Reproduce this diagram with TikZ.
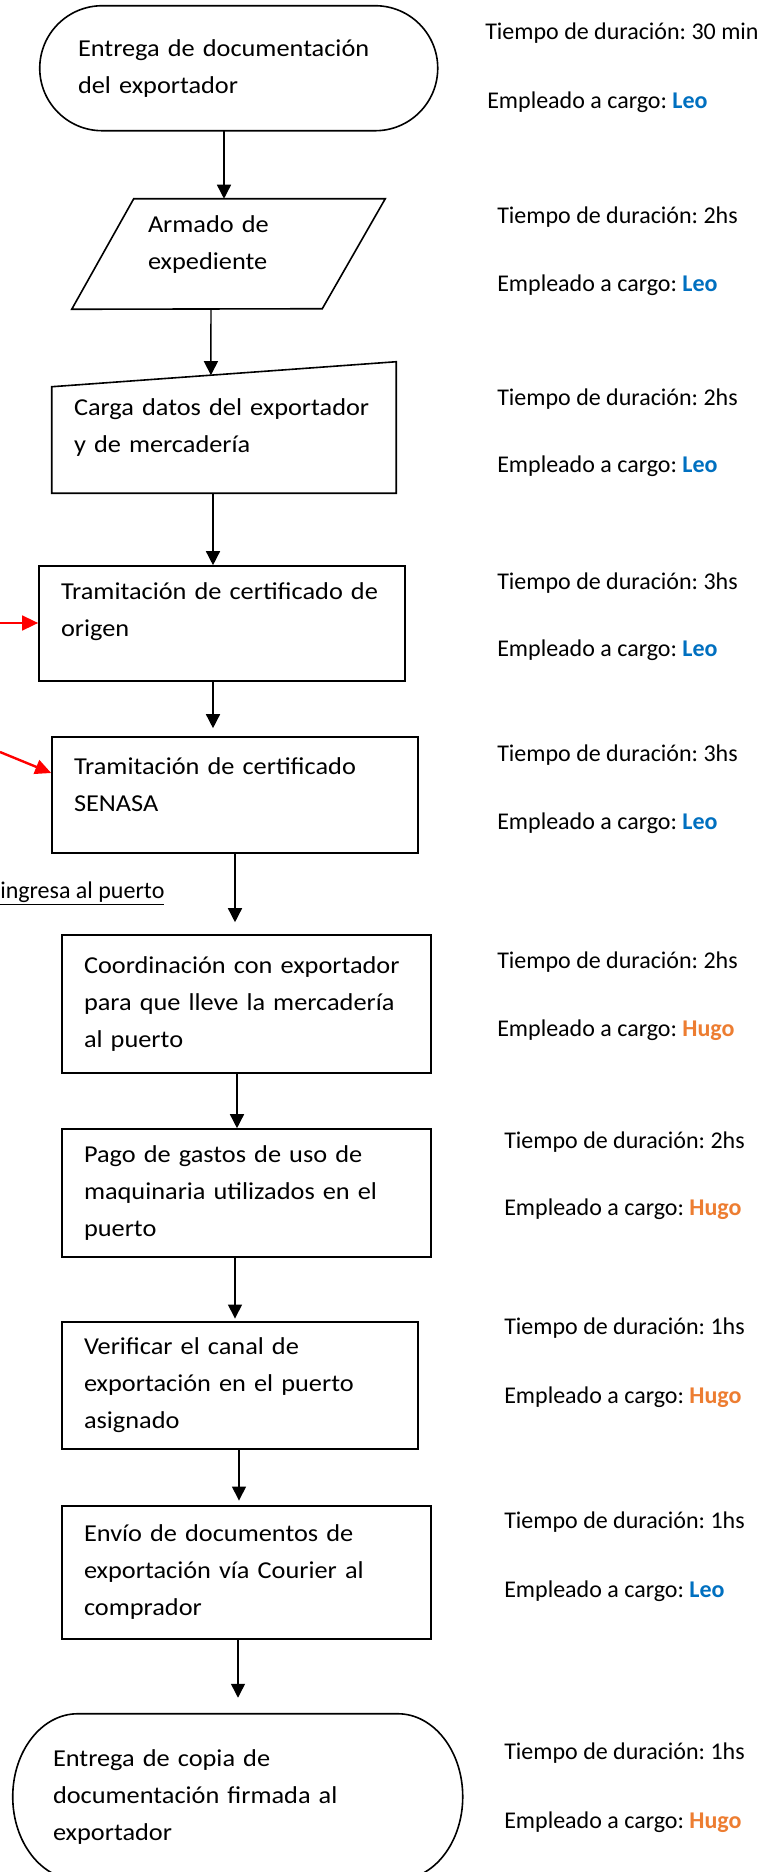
\documentclass[tikz,border=0pt]{standalone}
\usepackage{fontspec}
\setmainfont{Carlito}
\newfontfamily\cajafont[FakeStretch=1.085]{Carlito}
\usetikzlibrary{arrows.meta}
\frenchspacing

\definecolor{azulleo}{RGB}{0,112,192}
\definecolor{naranjahugo}{RGB}{237,125,49}

\begin{document}
\begin{tikzpicture}[x=0.75pt,y=-0.75pt,
	every node/.style={font=\fontsize{18}{22}\selectfont},
	texto/.style={font=\cajafont\fontsize{18.2}{27.75}\selectfont,align=left,inner xsep=16.5pt,inner ysep=0pt},
	caja/.style={texto,draw,line width=1.2pt},
	borde/.style={line width=1.2pt},
	flecha/.style={line width=1.1pt,-{Triangle[length=10.5pt,width=10.5pt]}},
	flecharoja/.style={red,line width=1.8pt,-{Triangle[length=12pt,width=11pt]}},
	dato/.style={anchor=west,inner sep=0pt}]
	\path[use as bounding box,fill=white] (0,0) rectangle (760,1872);

	% pasos del tramite
	\node[texto,inner xsep=28.5pt,text width=241.5pt,minimum height=93.75pt] (entrega) at (239,68.5) {Entrega de documentación\\del exportador};
	\node[texto,inner xsep=57pt,text width=120.75pt,minimum height=82.5pt] (armado) at (228.5,254) {Armado de\\expediente\par\vspace{13.5pt}\hrule height0pt};
	\node[texto,text width=225pt,minimum height=98.25pt] (carga) at (224,427.5) {Carga~datos~del~exportador\\y de mercadería};
	\node[caja,text width=241.5pt,minimum height=86.25pt] (origen) at (222,623.5) {Tramitación~de~certificado~de\\origen\par\vspace{17.25pt}\hrule height0pt};
	\node[caja,text width=241.5pt,minimum height=87pt] (senasa) at (235,795) {Tramitación de certificado\\SENASA\par\vspace{15.75pt}\hrule height0pt};
	\node[caja,text width=243.75pt,minimum height=103.5pt] (coord) at (246.5,1004) {Coordinación~con~exportador\\para~que~lleve~la~mercadería\\al puerto};
	\node[caja,text width=243.75pt,minimum height=96pt] (pago) at (246.5,1193) {Pago de gastos de uso de\\maquinaria utilizados en el\\puerto};
	\node[caja,text width=234pt,minimum height=95.25pt] (canal) at (240,1385.5) {Verificar el canal de\\exportación en el puerto\\asignado};
	\node[caja,text width=243.75pt,minimum height=99.75pt] (envio) at (246.5,1572.5) {Envío de documentos de\\exportación~vía~Courier~al\\comprador};
	\node[texto,inner xsep=30pt,text width=277.5pt,minimum height=124.5pt] (copia) at (238,1797) {Entrega de copia de\\documentación firmada al\\exportador};

	% contornos
	\draw[borde] (entrega.north west) ++(62.5,0) -- ++(273,0) arc[start angle=90,end angle=-90,radius=46.875pt] -- ++(-273,0) arc[start angle=270,end angle=90,radius=46.875pt] -- cycle;
	\draw[borde] (armado.north west) ++(62,0) -- (armado.north east) -- ++(-63,110) -- (armado.south west) -- cycle;
	\draw[borde] (carga.north west) ++(0,25) -- coordinate[pos=0.462] (cargaIn) (carga.north east) -- (carga.south east) -- (carga.south west) -- cycle;
	\draw[borde] (copia.north west) ++(65,0) -- ++(320,0) arc[start angle=90,end angle=-90,x radius=48.75pt,y radius=62.25pt] -- ++(-320,0) arc[start angle=270,end angle=90,x radius=48.75pt,y radius=62.25pt] -- cycle;

	% flechas
	\draw[flecha] (entrega.south -| 224,0) -- (armado.north -| 224,0);
	\draw[flecha] (armado.south -| 211,0) -- (cargaIn);
	\draw[flecha] (carga.south -| 213,0) -- (origen.north -| 213,0);
	\draw[flecha,shorten >=6pt] (origen.south -| 213,0) -- (senasa.north -| 213,0);
	\draw[flecha,shorten >=9pt] (senasa.south -| 235,0) -- (coord.north -| 235,0);
	\draw[flecha] (coord.south -| 237,0) -- (pago.north -| 237,0);
	\draw[flecha,shorten >=2pt] (pago.south -| 235,0) -- (canal.north -| 235,0);
	\draw[flecha,shorten >=3.5pt] (canal.south -| 239,0) -- (envio.north -| 239,0);
	\draw[flecha,shorten >=12pt] (envio.south -| 238,0) -- (copia.north -| 238,0);

	\coordinate (rojo1) at (0,623);
	\coordinate (rojo2) at (0,752);
	\draw[flecharoja] (rojo1) -- (origen.west |- rojo1);
	\draw[flecharoja] (rojo2) -- (senasa.west |- 0,773);

	\node[anchor=base west,inner sep=0pt] (puerto) at (0,898) {\underline{ingresa al puerto}};

	% tiempos y responsables
	\node[dato] (tiempo1) at (485,33) {Tiempo de duración: 30 min};
	\node[dato] (cargo1) at (487,102) {Empleado a cargo: {\color{azulleo}\bfseries Leo}};
	\node[dato] (tiempo2) at (497,217) {Tiempo de duración: 2hs};
	\node[dato] (cargo2) at (497,285) {Empleado a cargo: {\color{azulleo}\bfseries Leo}};
	\node[dato] (tiempo3) at (497,399) {Tiempo de duración: 2hs};
	\node[dato] (cargo3) at (497,466) {Empleado a cargo: {\color{azulleo}\bfseries Leo}};
	\node[dato] (tiempo4) at (497,583) {Tiempo de duración: 3hs};
	\node[dato] (cargo4) at (497,650) {Empleado a cargo: {\color{azulleo}\bfseries Leo}};
	\node[dato] (tiempo5) at (497,755) {Tiempo de duración: 3hs};
	\node[dato] (cargo5) at (497,823) {Empleado a cargo: {\color{azulleo}\bfseries Leo}};
	\node[dato] (tiempo6) at (497,962) {Tiempo de duración: 2hs};
	\node[dato] (cargo6) at (497,1030) {Empleado a cargo: {\color{naranjahugo}\bfseries Hugo}};
	\node[dato] (tiempo7) at (504,1142) {Tiempo de duración: 2hs};
	\node[dato] (cargo7) at (504,1209) {Empleado a cargo: {\color{naranjahugo}\bfseries Hugo}};
	\node[dato] (tiempo8) at (504,1328) {Tiempo de duración: 1hs};
	\node[dato] (cargo8) at (504,1397) {Empleado a cargo: {\color{naranjahugo}\bfseries Hugo}};
	\node[dato] (tiempo9) at (504,1522) {Tiempo de duración: 1hs};
	\node[dato] (cargo9) at (504,1591) {Empleado a cargo: {\color{azulleo}\bfseries Leo}};
	\node[dato] (tiempo10) at (504,1753) {Tiempo de duración: 1hs};
	\node[dato] (cargo10) at (504,1822) {Empleado a cargo: {\color{naranjahugo}\bfseries Hugo}};
\end{tikzpicture}
\end{document}
